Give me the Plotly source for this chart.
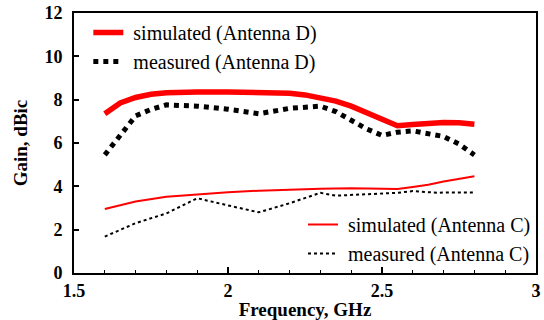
import plotly.graph_objects as go

# Data
freq_D = [1.60, 1.65, 1.70, 1.75, 1.80, 1.85, 1.90, 2.00, 2.10, 2.20, 2.25, 2.30, 2.35,
          2.40, 2.45, 2.50, 2.55, 2.60, 2.65, 2.70, 2.75, 2.80]
sim_D = [7.35, 7.85, 8.10, 8.25, 8.32, 8.35, 8.35, 8.35, 8.33, 8.30, 8.22, 8.10, 7.93,
         7.70, 7.42, 7.12, 6.80, 6.85, 6.92, 6.95, 6.93, 6.87]

freq_mD = [1.60, 1.65, 1.70, 1.75, 1.80, 1.90, 2.00, 2.10, 2.20, 2.30, 2.35, 2.40, 2.45,
           2.50, 2.55, 2.60, 2.65, 2.70, 2.75, 2.80]
meas_D = [5.45, 6.35, 7.25, 7.55, 7.76, 7.70, 7.56, 7.35, 7.60, 7.70, 7.45, 7.05, 6.65,
          6.35, 6.50, 6.56, 6.45, 6.30, 5.95, 5.45]

freq_C = [1.60, 1.70, 1.80, 1.90, 2.00, 2.10, 2.20, 2.30, 2.40, 2.50, 2.55, 2.60, 2.65,
          2.70, 2.75, 2.80]
sim_C = [2.95, 3.30, 3.52, 3.64, 3.73, 3.80, 3.85, 3.89, 3.91, 3.89, 3.88, 3.97, 4.07,
         4.22, 4.35, 4.47]

freq_mC = [1.60, 1.70, 1.80, 1.90, 2.00, 2.10, 2.20, 2.30, 2.35, 2.45, 2.55, 2.60, 2.68,
           2.70, 2.80]
meas_C = [1.68, 2.30, 2.75, 3.45, 3.12, 2.80, 3.22, 3.70, 3.57, 3.63, 3.70, 3.78, 3.70,
          3.72, 3.72]

x_ticks = [1.5, 2, 2.5, 3]
x_ticklabels = ["1.5", "2", "2.5", "3"]
y_ticks = [0, 2, 4, 6, 8, 10, 12]

FONT = "Liberation Serif"
NB = "\u00a0"

fig = go.Figure()
fig.add_trace(go.Scatter(x=freq_D, y=sim_D, mode="lines", name=NB + "simulated (Antenna D)",
                         line=dict(color="#ff0000", width=5.5), legend="legend"))
fig.add_trace(go.Scatter(x=freq_mD, y=meas_D, mode="lines", name=NB + "measured (Antenna D)",
                         line=dict(color="black", width=5, dash="dot"), legend="legend"))
fig.add_trace(go.Scatter(x=freq_C, y=sim_C, mode="lines", name=NB + "simulated (Antenna C)",
                         line=dict(color="#ff0000", width=2), legend="legend2"))
fig.add_trace(go.Scatter(x=freq_mC, y=meas_C, mode="lines", name=NB + "measured (Antenna C)",
                         line=dict(color="black", width=2, dash="dot"), legend="legend2"))

legend_font = dict(family=FONT, size=20, color="black")

fig.update_layout(
    width=544, height=320,
    margin=dict(l=74, r=3, t=13, b=47),
    plot_bgcolor="white", paper_bgcolor="white",
    font=dict(family=FONT, color="black", size=18),
    legend=dict(x=0.031, y=1.0, xanchor="left", yanchor="top",
                bgcolor="rgba(0,0,0,0)", font=legend_font,
                tracegroupgap=0, itemwidth=30),
    legend2=dict(x=1.0, y=0.0, xanchor="right", yanchor="bottom",
                 bgcolor="rgba(0,0,0,0)", font=legend_font,
                 tracegroupgap=0, itemwidth=30),
    xaxis=dict(range=[1.5, 3], tickvals=x_ticks, ticktext=x_ticklabels,
               ticks="inside", ticklen=6, tickwidth=1.5, tickcolor="black",
               minor=dict(dtick=0.1, ticks="inside", ticklen=3, tickcolor="black", tickwidth=1),
               showline=True, linecolor="black", linewidth=2, mirror=True,
               showgrid=False, zeroline=False,
               tickfont=dict(family=FONT, size=18, weight="bold"),
               title=dict(text="<b>Frequency, GHz</b>", font=dict(family=FONT, size=19), standoff=2)),
    yaxis=dict(range=[0, 12], tickvals=y_ticks,
               ticks="inside", ticklen=5, tickwidth=1.5, tickcolor="black",
               showline=True, linecolor="black", linewidth=2, mirror=True,
               showgrid=False, zeroline=False, ticklabelstandoff=6,
               tickfont=dict(family=FONT, size=18, weight="bold"),
               title=dict(text="<b>Gain, dBic</b>", font=dict(family=FONT, size=19), standoff=12)),
)

fig.write_html("out.html")
